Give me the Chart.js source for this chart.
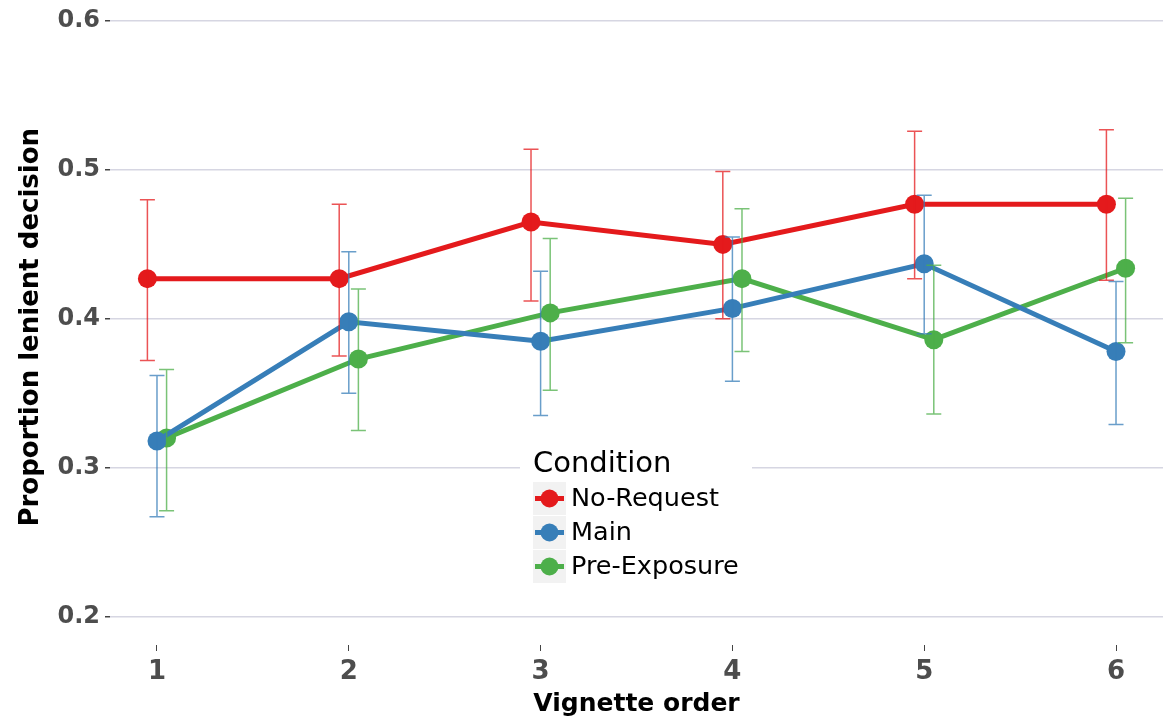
<!DOCTYPE html>
<html><head><meta charset="utf-8">
<script src="https://cdn.jsdelivr.net/npm/chart.js@4.4.1/dist/chart.umd.min.js"></script>
<style>html,body{margin:0;padding:0;background:#fff}#wrap{width:1176px;height:719px;position:relative}</style>
</head><body><div id="wrap"><canvas id="c" width="1176" height="719"></canvas></div>
<script>
const vignettes = [1, 2, 3, 4, 5, 6];
const conditions = ['No-Request', 'Main', 'Pre-Exposure'];
const noRequestMean = [0.427, 0.427, 0.465, 0.450, 0.477, 0.477];
const noRequestLow  = [0.372, 0.375, 0.412, 0.400, 0.427, 0.426];
const noRequestHigh = [0.480, 0.477, 0.514, 0.499, 0.526, 0.527];
const mainMean = [0.318, 0.398, 0.385, 0.407, 0.437, 0.378];
const mainLow  = [0.267, 0.350, 0.335, 0.358, 0.390, 0.329];
const mainHigh = [0.362, 0.445, 0.432, 0.455, 0.483, 0.425];
const preMean = [0.320, 0.373, 0.404, 0.427, 0.386, 0.434];
const preLow  = [0.271, 0.325, 0.352, 0.378, 0.336, 0.384];
const preHigh = [0.366, 0.420, 0.454, 0.474, 0.436, 0.481];
const yTickValues = [0.2, 0.3, 0.4, 0.5, 0.6];
const xTitle = 'Vignette order';
const yTitle = 'Proportion lenient decision';
const legendTitle = 'Condition';

const colors = ['#E41A1C', '#377EB8', '#4DAF4A'];
const barColors = ['rgba(228,26,28,0.75)', 'rgba(55,126,184,0.75)', 'rgba(77,175,74,0.75)'];
const dodge = [-0.05, 0, 0.05];
const means = [noRequestMean, mainMean, preMean];
const lows = [noRequestLow, mainLow, preLow];
const highs = [noRequestHigh, mainHigh, preHigh];

const datasets = conditions.map((name, i) => ({
  label: name,
  data: vignettes.map((v, j) => ({x: v + dodge[i], y: means[i][j]})),
  errLow: lows[i], errHigh: highs[i],
  borderColor: colors[i], backgroundColor: colors[i],
  pointBackgroundColor: colors[i], pointBorderColor: colors[i],
  borderWidth: 5, pointRadius: 9.5, pointBorderWidth: 0, pointHoverRadius: 9.5,
  tension: 0, fill: false, clip: false
}));

const errorBars = {
  id: 'errorBars',
  afterDatasetsDraw(chart) {
    const {ctx} = chart; const xs = chart.scales.x, ys = chart.scales.y;
    ctx.save();
    chart.data.datasets.forEach((ds, i) => {
      ctx.strokeStyle = barColors[i]; ctx.lineWidth = 1.5;
      ds.data.forEach((p, j) => {
        const px = xs.getPixelForValue(p.x);
        const y1 = ys.getPixelForValue(ds.errLow[j]);
        const y2 = ys.getPixelForValue(ds.errHigh[j]);
        ctx.beginPath();
        ctx.moveTo(px, y1); ctx.lineTo(px, y2);
        ctx.moveTo(px - 7.5, y1); ctx.lineTo(px + 7.5, y1);
        ctx.moveTo(px - 7.5, y2); ctx.lineTo(px + 7.5, y2);
        ctx.stroke();
      });
    });
    ctx.restore();
  }
};

const insideLegend = {
  id: 'insideLegend',
  afterDraw(chart) {
    const ctx = chart.ctx;
    ctx.save();
    ctx.fillStyle = '#ffffff';
    ctx.fillRect(520, 440, 232, 155);
    ctx.fillStyle = '#000000';
    ctx.font = '29px "DejaVu Sans"';
    ctx.textBaseline = 'alphabetic';
    ctx.textAlign = 'left';
    ctx.fillText(legendTitle, 533, 472);
    conditions.forEach((name, i) => {
      const top = 482 + i * 34;
      ctx.fillStyle = '#f2f2f2';
      ctx.fillRect(533, top, 33, 33);
      ctx.strokeStyle = colors[i]; ctx.lineWidth = 5;
      ctx.beginPath(); ctx.moveTo(535, top + 16.5); ctx.lineTo(564, top + 16.5); ctx.stroke();
      ctx.fillStyle = colors[i];
      ctx.beginPath(); ctx.arc(549.5, top + 16.5, 9, 0, Math.PI * 2); ctx.fill();
      ctx.fillStyle = '#000000';
      ctx.font = '25.5px "DejaVu Sans"';
      ctx.textBaseline = 'middle';
      ctx.fillText(name, 571, top + 17);
    });
    ctx.restore();
  }
};

new Chart(document.getElementById('c'), {
  type: 'line',
  data: {datasets},
  options: {
    responsive: false, animation: false, devicePixelRatio: 1,
    layout: {padding: {left: 0, right: 13, top: 0, bottom: 0}},
    plugins: {legend: {display: false}, tooltip: {enabled: false}},
    scales: {
      x: {
        type: 'linear', min: 0.755, max: 6.245,
        afterBuildTicks: s => { s.ticks = vignettes.map(v => ({value: v})); },
        afterFit: s => { s.height = 74; s.paddingLeft = 0; s.paddingRight = 0; },
        border: {display: false},
        grid: {drawOnChartArea: false, drawTicks: true, tickLength: 6, tickColor: '#444444', lineWidth: 1},
        ticks: {color: '#4D4D4D', padding: 6, font: {family: 'DejaVu Sans', weight: 'bold', size: 26}, callback: v => String(v)},
        title: {display: true, text: xTitle, color: '#000000', padding: {top: 0, bottom: 0}, font: {family: 'DejaVu Sans', weight: 'bold', size: 25}}
      },
      y: {
        type: 'linear', min: 0.1809, max: 0.6078,
        afterBuildTicks: s => { s.ticks = yTickValues.map(v => ({value: v})); },
        afterFit: s => { s.width = 110; s.paddingTop = 0; s.paddingBottom = 0; },
        border: {display: false},
        grid: {drawOnChartArea: true, drawTicks: true, tickLength: 5, color: '#d6d6e2', tickColor: '#444444', lineWidth: 1.5},
        ticks: {color: '#4D4D4D', padding: 5, font: {family: 'DejaVu Sans', weight: 'bold', size: 24}, callback: v => v.toFixed(1)},
        title: {display: true, text: yTitle, color: '#000000', padding: {top: 16, bottom: 0}, font: {family: 'DejaVu Sans', weight: 'bold', size: 26}}
      }
    }
  },
  plugins: [errorBars, insideLegend]
});
</script></body></html>
